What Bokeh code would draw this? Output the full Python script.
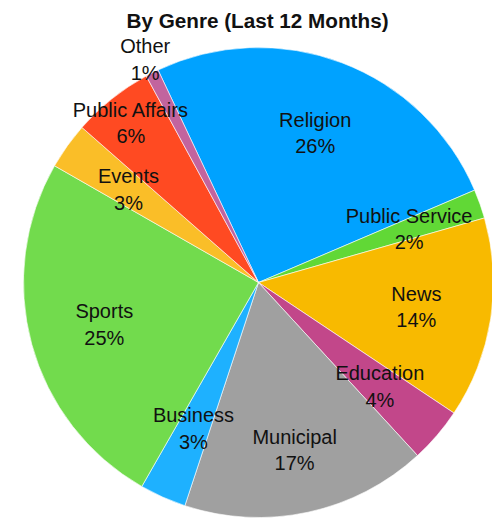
import math
from bokeh.plotting import figure
from bokeh.models import Range1d, ColumnDataSource
from bokeh.embed import file_html
from bokeh.resources import INLINE
from bokeh.core.properties import value

# ---- data ----
categories = ["Religion", "Public Service", "News", "Education", "Municipal",
              "Business", "Sports", "Events", "Public Affairs", "Other"]
shares = [25.6, 2.0, 13.8, 3.8, 16.9, 3.2, 25.0, 3.2, 5.6, 0.9]
colors = ["#00A2FF", "#61D836", "#F8BA00", "#C2478A", "#A0A0A0",
          "#1EB1FF", "#72DB4D", "#FABE28", "#FF4A22", "#C2649E"]
title_text = "By Genre (Last 12 Months)"

# ---- layout (pixels) ----
W, H = 492, 519
CX, CY, R = 258, H - 282, 235
START = -25.3  # degrees clockwise from 12 o'clock where the first slice starts
label_r = {"Other": 1.065, "Public Affairs": 0.87, "Municipal": 0.73}
DEFAULT_LR = 0.68

total = sum(shares)
starts, ends, lx, ly, labels = [], [], [], [], []
cum = 0.0
for cat, s in zip(categories, shares):
    c0 = START + cum / total * 360.0
    c1 = c0 + s / total * 360.0
    cum += s
    starts.append(math.radians(90 - c1))
    ends.append(math.radians(90 - c0))
    mid = math.radians((c0 + c1) / 2)
    rf = label_r.get(cat, DEFAULT_LR) * R
    lx.append(CX + rf * math.sin(mid))
    ly.append(CY + rf * math.cos(mid))
    labels.append(f"{cat}\n{round(s)}%")

src = ColumnDataSource(dict(start=starts, end=ends, color=colors,
                            lx=lx, ly=ly, label=labels))

p = figure(width=W, height=H, x_range=Range1d(0, W), y_range=Range1d(0, H),
           output_backend="svg", toolbar_location=None, min_border=0,
           x_axis_type=None, y_axis_type=None)
p.grid.visible = False
p.outline_line_color = None

p.wedge(x=CX, y=CY, radius=R, start_angle="start", end_angle="end",
        fill_color="color", line_color="white", line_width=0.6, source=src)

p.text(x="lx", y="ly", text="label", source=src,
       text_font=value("Liberation Sans"), text_font_size="20px",
       text_align="center", text_baseline="middle", text_line_height=1.2,
       text_color="#111111")

p.text(x=[CX - 1], y=[H - 20], text=[title_text],
       text_font=value("Liberation Sans"), text_font_size="20.7px",
       text_font_style="bold", text_align="center", text_baseline="alphabetic",
       text_color="#111111")

open("out.html", "w").write(file_html(p, INLINE))
